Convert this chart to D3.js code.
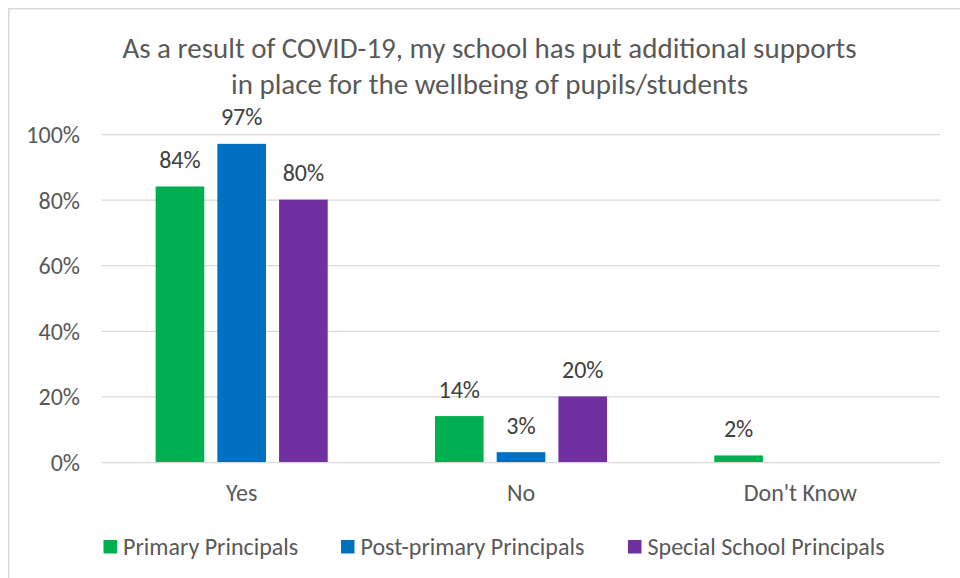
<!DOCTYPE html>
<html>
<head>
<meta charset="utf-8">
<script src="https://cdn.jsdelivr.net/npm/d3@7"></script>
<style>
  html, body { margin: 0; padding: 0; background: #fff; }
  svg { display: block; }
  text { font-family: Carlito, Calibri, Lato, "Open Sans", sans-serif; }
</style>
</head>
<body>
<svg id="chart" width="960" height="578"></svg>
<script>
const titleLines = ["As a result of COVID-19, my school has put additional supports", "in place for the wellbeing of pupils/students"];
const categories = ["Yes", "No", "Don't Know"];
const seriesNames = ["Primary Principals", "Post-primary Principals", "Special School Principals"];
const primaryValues = [0.84, 0.14, 0.02];
const postPrimaryValues = [0.97, 0.03, null];
const specialValues = [0.80, 0.20, null];
const yTicks = [0, 0.2, 0.4, 0.6, 0.8, 1.0];
const seriesColors = ["#00B050", "#0070C0", "#7030A0"];

const seriesValues = [primaryValues, postPrimaryValues, specialValues];
const data = categories.map((c, i) => ({
  category: c,
  values: seriesNames.map((s, j) => ({ series: s, value: seriesValues[j][i] }))
}));

const svg = d3.select("#chart");

// chart border (partial frame like the cropped Excel chart)
svg.append("rect")
  .attr("x", 8.75).attr("y", 8.75)
  .attr("width", 1000).attr("height", 1000)
  .attr("fill", "#fff")
  .attr("stroke", "#D9D9D9").attr("stroke-width", 1.5);

const plot = { left: 102, right: 940, top: 134, bottom: 462 };

const y = d3.scaleLinear().domain([0, 1]).range([plot.bottom, plot.top]);
const x0 = d3.scaleBand().domain(categories).range([plot.left, plot.right])
  .paddingInner(0.384).paddingOuter(0.192);
const x1 = d3.scaleBand().domain(seriesNames).range([0, x0.bandwidth()])
  .paddingInner(0.212).paddingOuter(0);
const color = d3.scaleOrdinal().domain(seriesNames).range(seriesColors);

// title
const title = svg.append("text")
  .attr("x", 489.5)
  .attr("text-anchor", "middle")
  .attr("fill", "#595959")
  .style("font-size", "29px");
titleLines.forEach((t, i) => {
  title.append("tspan").attr("x", 489.5).attr("y", 58 + i * 36).text(t);
});

// gridlines
const yAxis = d3.axisLeft(y).tickValues(yTicks).tickFormat(d3.format(".0%"))
  .tickSize(-(plot.right - plot.left)).tickPadding(22);
const gy = svg.append("g").attr("transform", `translate(${plot.left},0)`).call(yAxis);
gy.select(".domain").remove();
gy.selectAll(".tick line").attr("stroke", "#D9D9D9").attr("stroke-width", 1.25);
gy.selectAll(".tick text")
  .attr("fill", "#595959")
  .style("font-size", "24px")
  .attr("dy", "0.35em");

// bars
const groups = svg.append("g").selectAll("g")
  .data(data).join("g")
  .attr("transform", d => `translate(${x0(d.category)},0)`);

groups.selectAll("rect")
  .data(d => d.values.filter(v => v.value != null))
  .join("rect")
  .attr("x", d => x1(d.series))
  .attr("width", x1.bandwidth())
  .attr("y", d => y(d.value))
  .attr("height", d => y(0) - y(d.value))
  .attr("fill", d => color(d.series));

groups.selectAll("text.lbl")
  .data(d => d.values.filter(v => v.value != null))
  .join("text")
  .attr("class", "lbl")
  .attr("x", d => x1(d.series) + x1.bandwidth() / 2)
  .attr("y", d => y(d.value) - 18.5)
  .attr("text-anchor", "middle")
  .attr("fill", "#404040")
  .style("font-size", "24px")
  .text(d => d3.format(".0%")(d.value));

// x axis labels
const xAxis = d3.axisBottom(x0).tickSize(0).tickPadding(0);
const gx = svg.append("g").attr("transform", `translate(0,${plot.bottom})`).call(xAxis);
gx.select(".domain").remove();
gx.selectAll(".tick text")
  .attr("y", 39)
  .attr("dy", 0)
  .attr("fill", "#595959")
  .style("font-size", "24px");

// legend
const legendX = [103.5, 341, 628];
const legend = svg.append("g").selectAll("g")
  .data(seriesNames).join("g")
  .attr("transform", (d, i) => `translate(${legendX[i]},540)`);
legend.append("rect")
  .attr("width", 13.5).attr("height", 13.5)
  .attr("fill", d => color(d));
legend.append("text")
  .attr("x", 19.5).attr("y", 14.5)
  .attr("fill", "#595959")
  .style("font-size", "24px")
  .text(d => d);
</script>
</body>
</html>
